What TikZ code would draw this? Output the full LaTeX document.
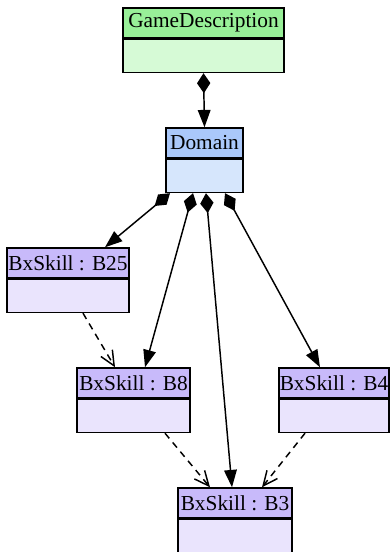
\documentclass[tikz,border=0pt]{standalone}
\usepackage{fontspec}
\setmainfont{Liberation Serif}
\usetikzlibrary{arrows.meta,calc}
\definecolor{gdhead}{RGB}{152,240,152}
\definecolor{gdbody}{RGB}{214,250,214}
\definecolor{domhead}{RGB}{170,200,250}
\definecolor{dombody}{RGB}{214,230,252}
\definecolor{bxhead}{RGB}{200,186,250}
\definecolor{bxbody}{RGB}{234,228,253}
\begin{document}
\begin{tikzpicture}[x=0.75pt, y=-0.75pt, line width=1.1pt,
  head/.style={draw,inner sep=0pt,minimum height=22.5pt,font=\fontsize{16}{18}\selectfont},
  body/.style={draw,inner sep=0pt,minimum height=24.75pt,anchor=north},
  comp/.style={{Diamond[length=15pt,width=10pt]}-{Triangle[length=13pt,width=9.5pt]}},
  dep/.style={dash pattern=on 5pt off 4pt,-{Straight Barb[length=11pt,width=10pt,line width=1.1pt]}}]
\useasboundingbox (0,0) rectangle (390,552);
\begin{scope}
\node [head,fill=gdhead,minimum width=120.75pt](gd) at (203.5,23) {GameDescription};
\node [body,fill=gdbody,minimum width=120.75pt](gd body) at (gd.south) {};
\node [head,fill=domhead,minimum width=57.75pt](dom) at (204.5,143) {Domain};
\node [body,fill=dombody,minimum width=57.75pt](dom body) at (dom.south) {};
\node [head,fill=bxhead,minimum width=91.5pt](b25) at (68,263) {BxSkill : B25};
\node [body,fill=bxbody,minimum width=91.5pt](b25 body) at (b25.south) {};
\node [head,fill=bxhead,minimum width=84.75pt](b8) at (133.5,383) {BxSkill : B8};
\node [body,fill=bxbody,minimum width=84.75pt](b8 body) at (b8.south) {};
\node [head,fill=bxhead,minimum width=82.5pt](b4) at (334,383) {BxSkill : B4};
\node [body,fill=bxbody,minimum width=82.5pt](b4 body) at (b4.south) {};
\node [head,fill=bxhead,minimum width=85.5pt](b3) at (235,503) {BxSkill : B3};
\node [body,fill=bxbody,minimum width=85.5pt](b3 body) at (b3.south) {};
\end{scope}
\path
  (gd body.south) edge[comp] (dom.north)
  ($(dom body.south)+(-34.5,0)$) edge[comp] ($(b25.north)+(37,0)$)
  ($(dom body.south)+(-11.5,0)$) edge[comp] ($(b8.north)+(11.5,0)$)
  ($(dom body.south)+(1.5,0)$) edge[comp] ($(b3.north)+(-3,0)$)
  ($(dom body.south)+(20.5,0)$) edge[comp] ($(b4.north)+(-14,0)$)
  ($(b25 body.south)+(15,0)$) edge[dep] ($(b8.north)+(-18.5,0)$)
  ($(b8 body.south)+(31.5,0)$) edge[dep] ($(b3.north)+(-25,0)$)
  ($(b4 body.south)+(-29,0)$) edge[dep] ($(b3.north)+(27,0)$)
      ;
\end{tikzpicture}
\end{document}
